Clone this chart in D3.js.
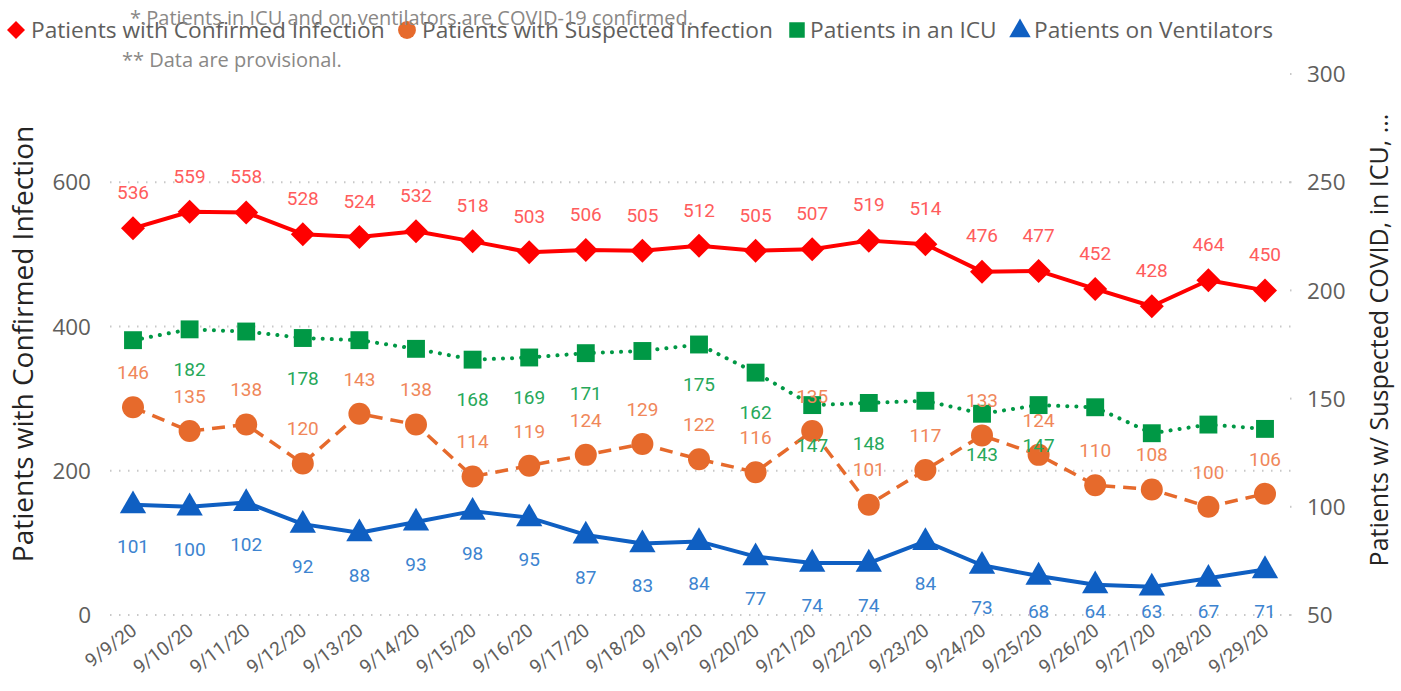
<!DOCTYPE html>
<html>
<head>
<meta charset="utf-8">
<script src="https://cdn.jsdelivr.net/npm/d3@7"></script>
<style>
  html, body { margin: 0; padding: 0; background: #fff; }
  svg { display: block; }
  .lbl { font-family: Roboto, "DejaVu Sans", sans-serif; }
  .ui { font-family: "Open Sans", "Noto Sans", sans-serif; }
</style>
</head>
<body>
<div id="chart"></div>
<script>
(() => {
  "use strict";

  const dates = ["9/9/20","9/10/20","9/11/20","9/12/20","9/13/20","9/14/20","9/15/20","9/16/20","9/17/20","9/18/20","9/19/20",
    "9/20/20","9/21/20","9/22/20","9/23/20","9/24/20","9/25/20","9/26/20","9/27/20","9/28/20","9/29/20"];
  const confirmed = [536,559,558,528,524,532,518,503,506,505,512,505,507,519,514,476,477,452,428,464,450];
  const suspected = [146,135,138,120,143,138,114,119,124,129,122,116,135,101,117,133,124,110,108,100,106];
  const icu = [177,182,181,178,177,173,168,169,171,172,175,162,147,148,149,143,147,146,134,138,136];
  const icuLabelShown = [0,1,0,1,0,0,1,1,1,0,1,1,1,1,0,1,1,0,0,0,0];
  const vents = [101,100,102,92,88,93,98,95,87,83,84,77,74,74,84,73,68,64,63,67,71];

  const leftTicks = [0,200,400,600];
  const rightTicks = [50,100,150,200,250,300];

  const W = 1401, H = 691;
  const svg = d3.select("#chart").append("svg").attr("width", W).attr("height", H);

  const x = d3.scalePoint().domain(dates).range([133, 1265]);
  const yL = d3.scaleLinear().domain([0, 750]).range([615, 74]);
  const yR = d3.scaleLinear().domain([50, 300]).range([615, 74]);

  const C = {
    conf: "#FF0000", confLbl: "#FF5C5C",
    susp: "#E66A2C", suspLbl: "#F0875A",
    icu: "#009845", icuLbl: "#27A85A",
    vent: "#0F5FC2", ventLbl: "#3D84D0",
    axis: "#605E5C", title: "#252423", grid: "#C8C8C8"
  };

  // gridlines (left axis)
  svg.append("g").selectAll("line").data(leftTicks).join("line")
    .attr("x1", 110).attr("x2", 1293)
    .attr("y1", d => yL(d)).attr("y2", d => yL(d))
    .attr("stroke", C.grid).attr("stroke-width", 2)
    .attr("stroke-dasharray", "1.5,7.5").attr("stroke-linecap", "butt");

  // left axis labels
  svg.append("g").selectAll("text").data(leftTicks).join("text")
    .attr("class", "ui").attr("x", 91).attr("y", d => yL(d)).attr("dy", "0.36em")
    .attr("text-anchor", "end").attr("font-size", 22.5).attr("fill", C.axis)
    .text(d => d);

  // right axis labels + tiny tick dot
  const rg = svg.append("g");
  rg.selectAll("text").data(rightTicks).join("text")
    .attr("class", "ui").attr("x", 1307).attr("y", d => yR(d)).attr("dy", "0.36em")
    .attr("font-size", 22.5).attr("fill", C.axis).text(d => d);
  rg.selectAll("rect").data(rightTicks).join("rect")
    .attr("x", 1290).attr("y", d => yR(d) - 1).attr("width", 1.5).attr("height", 2)
    .attr("fill", C.grid);

  // axis titles
  svg.append("text").attr("class", "ui")
    .attr("transform", "translate(33,344) rotate(-90)")
    .attr("text-anchor", "middle").attr("font-size", 28).attr("fill", C.title)
    .text("Patients with Confirmed Infection");
  svg.append("text").attr("class", "ui")
    .attr("transform", "translate(1388,340) rotate(-90)")
    .attr("text-anchor", "middle").attr("font-size", 25).attr("fill", C.title)
    .text("Patients w/ Suspected COVID, in ICU, ...");

  // x axis labels
  svg.append("g").selectAll("text").data(dates).join("text")
    .attr("class", "lbl")
    .attr("transform", d => `translate(${x(d) + 5},${633}) rotate(-37)`)
    .attr("text-anchor", "end").attr("font-size", 19).attr("fill", C.axis)
    .text(d => d);

  // lines
  const mk = (vals, ys) => vals.map((v, i) => [x(dates[i]), ys(v)]);
  const line = d3.line();
  const series = [
    {vals: suspected, y: yR, color: C.susp, w: 3.5, dash: "13,8", cap: "butt"},
    {vals: icu, y: yR, color: C.icu, w: 4, dash: "0.1,9", cap: "round"},
    {vals: vents, y: yR, color: C.vent, w: 4, dash: null, cap: "round"},
    {vals: confirmed, y: yL, color: C.conf, w: 4, dash: null, cap: "round"}
  ];
  series.forEach(s => {
    svg.append("path").attr("d", line(mk(s.vals, s.y)))
      .attr("fill", "none").attr("stroke", s.color).attr("stroke-width", s.w)
      .attr("stroke-dasharray", s.dash).attr("stroke-linecap", s.cap)
      .attr("stroke-linejoin", "round");
  });

  // markers
  const sym = (type, size) => d3.symbol().type(type).size(size)();
  const diamond = "M0,-12L12,0L0,12L-12,0Z";
  svg.append("g").selectAll("path").data(suspected).join("path")
    .attr("transform", (d, i) => `translate(${x(dates[i])},${yR(d)})`)
    .attr("d", sym(d3.symbolCircle, 380)).attr("fill", C.susp);
  svg.append("g").selectAll("path").data(icu).join("path")
    .attr("transform", (d, i) => `translate(${x(dates[i])},${yR(d)})`)
    .attr("d", sym(d3.symbolSquare, 320)).attr("fill", C.icu);
  svg.append("g").selectAll("path").data(vents).join("path")
    .attr("transform", (d, i) => `translate(${x(dates[i])},${yR(d) + 1})`)
    .attr("d", sym(d3.symbolTriangle, 300)).attr("fill", C.vent);
  svg.append("g").selectAll("path").data(confirmed).join("path")
    .attr("transform", (d, i) => `translate(${x(dates[i])},${yL(d)})`)
    .attr("d", diamond).attr("fill", C.conf);

  // data labels
  const labels = (vals, ys, off, color, shown) => {
    svg.append("g").selectAll("text")
      .data(vals.map((v, i) => ({v, i})).filter(d => !shown || shown[d.i]))
      .join("text").attr("class", "lbl")
      .attr("x", d => x(dates[d.i])).attr("y", d => Math.min(ys(d.v) + off, 611))
      .attr("dy", "0.36em").attr("text-anchor", "middle")
      .attr("font-size", 19).attr("fill", color)
      .text(d => d.v);
  };
  labels(confirmed, yL, -36, C.confLbl);
  labels(suspected, yR, -35, C.suspLbl);
  labels(icu, yR, 40, C.icuLbl, icuLabelShown);
  labels(vents, yR, 42, C.ventLbl);

  // legend
  const lg = svg.append("g");
  const legend = [
    {name: "Patients with Confirmed Infection", color: C.conf, shape: "diamond", mx: 16, tx: 31},
    {name: "Patients with Suspected Infection", color: C.susp, shape: "circle", mx: 407, tx: 422},
    {name: "Patients in an ICU", color: C.icu, shape: "square", mx: 797, tx: 810},
    {name: "Patients on Ventilators", color: C.vent, shape: "triangle", mx: 1020, tx: 1034}
  ];
  legend.forEach(l => {
    let d;
    if (l.shape === "diamond") d = "M0,-9L9,0L0,9L-9,0Z";
    else if (l.shape === "circle") d = sym(d3.symbolCircle, 250);
    else if (l.shape === "square") d = sym(d3.symbolSquare, 240);
    else d = sym(d3.symbolTriangle, 200);
    lg.append("path").attr("d", d).attr("fill", l.color)
      .attr("transform", `translate(${l.mx},${l.shape === "triangle" ? 31 : 30})`);
    lg.append("text").attr("class", "ui").attr("x", l.tx).attr("y", 30).attr("dy", "0.36em")
      .attr("font-size", 22.7).attr("fill", C.axis).text(l.name);
  });

  // notes
  svg.append("text").attr("class", "ui").attr("x", 130).attr("y", 18).attr("dy", "0.36em")
    .attr("font-size", 20).attr("fill", "#8A8886")
    .text("*.Patients in ICU and on ventilators are COVID-19 confirmed.");
  svg.append("text").attr("class", "ui").attr("x", 122).attr("y", 60).attr("dy", "0.36em")
    .attr("font-size", 20).attr("fill", "#8A8886")
    .text("** Data are provisional.");
})();
</script>
</body>
</html>
